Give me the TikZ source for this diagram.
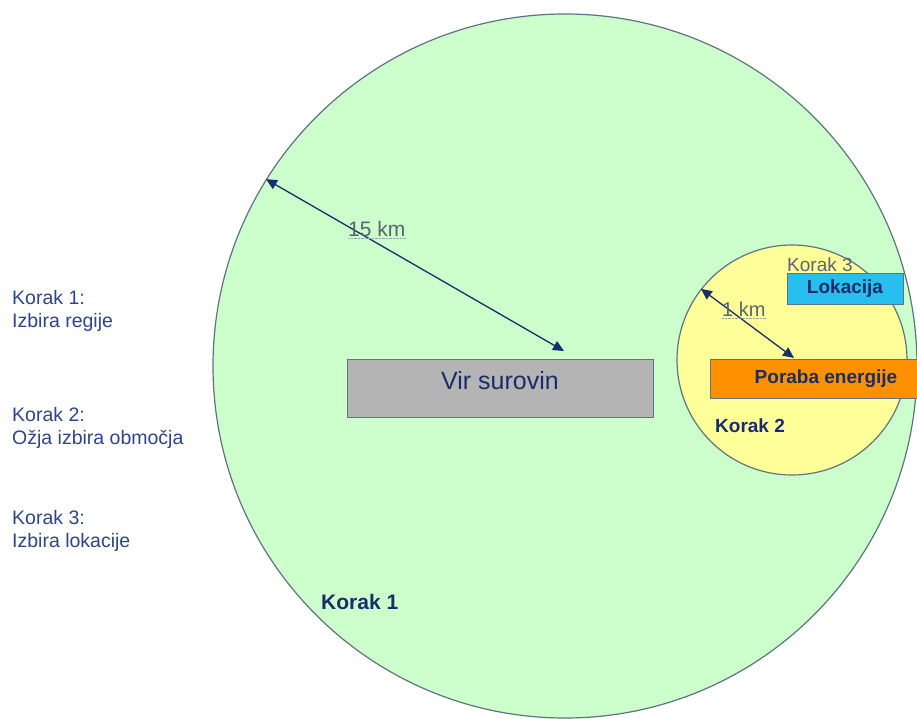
\documentclass[tikz,border=0pt]{standalone}
\usepackage{fontspec}
\setmainfont{Liberation Sans}
\usetikzlibrary{arrows.meta}

\definecolor{rimgray}{RGB}{95,115,130}
\definecolor{regiongreen}{RGB}{204,255,204}
\definecolor{zoneyellow}{RGB}{255,255,153}
\definecolor{sourcegray}{RGB}{180,180,180}
\definecolor{useorange}{RGB}{255,145,0}
\definecolor{sitecyan}{RGB}{40,190,240}
\definecolor{stepblue}{RGB}{45,70,135}
\definecolor{boldnavy}{RGB}{25,45,105}
\definecolor{distgray}{RGB}{90,100,115}

\begin{document}
\begin{tikzpicture}[x=1pt, y=-1pt,
            area/.style={circle, draw=rimgray, line width=1.2pt, inner sep=0pt},
            box/.style={draw=rimgray, line width=1pt, inner sep=0pt},
            steptext/.style={align=left, anchor=north west, inner sep=0pt, text=stepblue,
                font=\fontsize{19.5}{23}\selectfont},
            tag/.style={anchor=base west, inner sep=0pt, text=boldnavy, font=\bfseries\fontsize{19}{22}\selectfont},
            dist/.style={anchor=base west, inner sep=0pt, text=distgray},
            arrow/.style={{Triangle[length=11pt,width=10pt]}-{Triangle[length=11pt,width=10pt]}, line width=1.3pt, draw=boldnavy}
        ]
            \useasboundingbox (0,0) rectangle (917,718);
            \clip (0,0) rectangle (917,718);
            \fill[white] (0,0) rectangle (917,718);

            % Steps on left
            \node[steptext] (step1) at (12,290) {Korak 1:\\Izbira regije};
            \node[steptext] (step2) at (12,407) {Korak 2:\\Ožja izbira območja};
            \node[steptext] (step3) at (12,510) {Korak 3:\\Izbira lokacije};

            % Region and zone circles
            \node[area, fill=regiongreen, minimum size=704pt] (region) at (565,366) {};
            \node[area, fill=zoneyellow, minimum size=230pt] (zone) at (792,360) {};

            % Boxes
            \node[box, fill=sourcegray, minimum width=306pt, minimum height=58pt,
                text=boldnavy, font=\fontsize{25}{30}\selectfont,
                text height=18pt, text depth=16pt] (source) at (500,388) {Vir surovin};
            \node[box, fill=useorange, minimum width=232pt, minimum height=39pt,
                text=boldnavy, font=\bfseries\fontsize{19}{22}\selectfont] (usage) at (826,378.5) {Poraba energije};
            \node[box, fill=sitecyan, minimum width=116pt, minimum height=31pt,
                text=boldnavy, font=\bfseries\fontsize{19}{22}\selectfont] (site) at (845,288.5) {Lokacija};

            % Step tags
            \node[tag, font=\bfseries\fontsize{21}{24}\selectfont] (tag1) at (321,609) {Korak 1};
            \node[tag] (tag2) at (715,432) {Korak 2};
            \node[dist, font=\fontsize{19}{22}\selectfont] (tag3) at (787,271) {Korak 3};

            % Distances
            \coordinate (srctop) at (564,351);
            \coordinate (usetop) at (794,358);
            \draw[arrow] (region.148) -- (srctop);
            \draw[arrow] (zone.142) -- (usetop);
            \node[dist, font=\fontsize{21}{24}\selectfont] (km15) at (348,236) {15 km};
            \node[dist, font=\fontsize{20}{24}\selectfont] (km1) at (722,316) {1 km};
            \draw[densely dotted, draw=distgray!60] ([yshift=-2pt]km15.base west) -- ([yshift=-2pt]km15.base east);
            \draw[densely dotted, draw=distgray!60] ([yshift=-2pt]km1.base west) -- ([yshift=-2pt]km1.base east);

        \end{tikzpicture}
\end{document}
